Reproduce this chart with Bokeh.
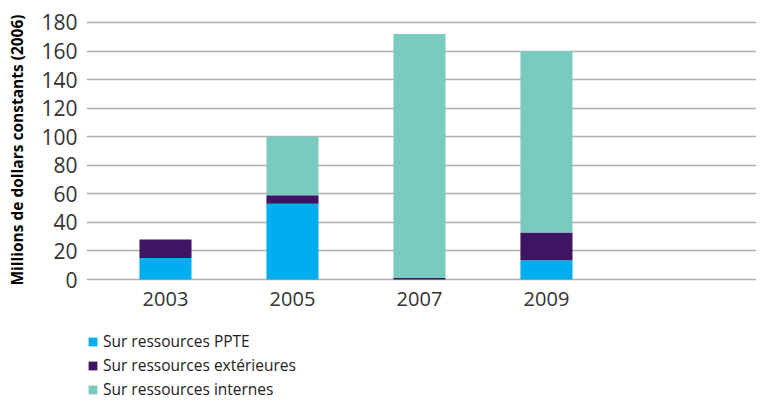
from bokeh.plotting import figure
from bokeh.models import Range1d, FixedTicker, Legend, LegendItem, ColumnDataSource
from bokeh.layouts import column
from bokeh.embed import file_html
from bokeh.resources import INLINE

years = ["2003", "2005", "2007", "2009"]
ppte = [15, 53, 0, 13.5]
exterieures = [13, 6, 1, 19.5]
internes = [0, 41, 171, 127]
series_names = ["Sur ressources PPTE", "Sur ressources extérieures", "Sur ressources internes"]
colors = ["#00AEEF", "#3F1563", "#7ACBBF"]
y_ticks = [0, 20, 40, 60, 80, 100, 120, 140, 160, 180]

xs = list(range(len(years)))
src = ColumnDataSource(dict(x=xs, ppte=ppte, ext=exterieures, int_=internes))

FONT = "Open Sans"

p = figure(width=756, height=318, output_backend="svg", toolbar_location=None,
           x_range=Range1d(-0.622, 4.654), y_range=Range1d(-1.4, 182.8),
           min_border_left=86, min_border_right=0, min_border_top=18, min_border_bottom=37)
p.outline_line_color = None
p.background_fill_color = "white"

stacks = ["ppte", "ext", "int_"]
p.vbar_stack(stacks, x="x", width=0.41, source=src, color=colors, line_color=None)

p.xaxis.ticker = FixedTicker(ticks=xs)
p.xaxis.major_label_overrides = {i: y for i, y in enumerate(years)}
p.xaxis.axis_line_color = None
p.xaxis.major_tick_line_color = None
p.xaxis.minor_tick_line_color = None
p.xaxis.major_label_text_font = FONT
p.xaxis.major_label_text_font_size = "20px"
p.xaxis.major_label_text_color = "#333333"
p.xaxis.major_label_standoff = 4
p.xgrid.grid_line_color = None

p.yaxis.ticker = FixedTicker(ticks=y_ticks)
p.yaxis.axis_line_color = None
p.yaxis.major_tick_line_color = None
p.yaxis.minor_tick_line_color = None
p.yaxis.major_label_text_font = FONT
p.yaxis.major_label_text_font_size = "21px"
p.yaxis.major_label_text_color = "#333333"
p.yaxis.major_label_standoff = 3
p.yaxis.axis_label = "Millions de dollars constants (2006)"
p.yaxis.axis_label_text_font = FONT
p.yaxis.axis_label_text_font_size = "15.5px"
p.yaxis.axis_label_text_font_style = "bold"
p.yaxis.axis_label_text_color = "#000000"
p.yaxis.axis_label_standoff = 10
p.ygrid.grid_line_color = "#b0b0b0"
p.ygrid.grid_line_width = 1.5

# Legend panel (separate figure beneath the chart)
leg = figure(width=756, height=82, output_backend="svg", toolbar_location=None,
             x_range=Range1d(0, 1), y_range=Range1d(0, 1),
             min_border_left=86, min_border_right=0, min_border_top=0, min_border_bottom=0)
leg.axis.visible = False
leg.grid.visible = False
leg.outline_line_color = None
dummy = [leg.vbar(x=[-5], top=[-5], bottom=[-6], width=0.1, color=c, line_color=None) for c in colors]
legend = Legend(items=[LegendItem(label=n, renderers=[r]) for n, r in zip(series_names, dummy)],
                location=(1, 0), orientation="vertical",
                glyph_width=11, glyph_height=11, label_height=20, spacing=2,
                padding=0, margin=0, label_standoff=5,
                label_text_font=FONT, label_text_font_size="15.5px", label_text_color="#222222",
                border_line_color=None, background_fill_alpha=0)
leg.add_layout(legend, "center")

layout = column(p, leg, spacing=0)
open("out.html", "w").write(file_html(layout, INLINE))
